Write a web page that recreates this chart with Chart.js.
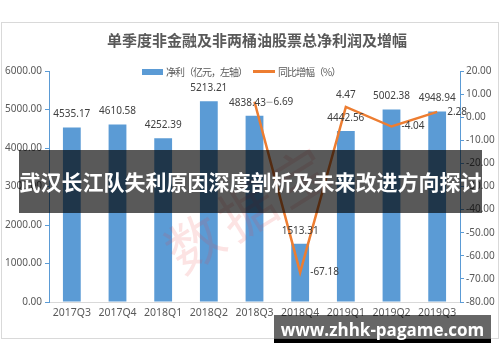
<!DOCTYPE html>
<html lang="zh">
<head>
  <meta charset="UTF-8" />
  <title>单季度非金融及非两桶油股票总净利润及增幅</title>
  <script src="https://cdn.jsdelivr.net/npm/chart.js"></script>
  <style>
    body { margin: 0; background: #fff; }
    #wrap { position: relative; width: 500px; height: 362px; overflow: hidden; font-family: "Noto Sans CJK SC", "Noto Sans", sans-serif; }
    #frame { position: absolute; left: 1px; top: 22px; width: 496px; height: 315px; border: 1px solid #d9d9d9; }
    #chart { position: absolute; left: 0; top: 0; }
    #title { position: absolute; left: 0; width: 514px; top: 29px; text-align: center; font-size: 15px; font-weight: bold; color: #595959; }
    #legend { position: absolute; top: 64px; left: 142px; font-size: 10px; letter-spacing: -1px; color: #595959; display: flex; align-items: center; white-space: nowrap; }
    #legend .box { display: inline-block; width: 21px; height: 6px; background: #5b9bd5; margin-right: 3px; }
    #legend .ln { display: inline-block; width: 22px; height: 2.5px; background: #ed7d31; margin: 0 3px 0 6px; }
    #stamp { position: absolute; left: 155px; top: 165px; font-size: 56px; color: rgba(235, 70, 70, 0.15); transform: rotate(-32deg); white-space: nowrap; letter-spacing: 6px; }
    #banner { position: absolute; left: 19px; top: 150px; width: 463px; height: 63px; background: rgba(0, 0, 0, 0.65); color: #fff; font-size: 21px; font-weight: bold; line-height: 63px; text-align: center; white-space: nowrap; }
    #site { position: absolute; left: 274px; top: 315px; width: 217px; height: 28px; background: linear-gradient(to bottom, rgba(0,0,0,0.6) 0, rgba(0,0,0,0.6) 24px, #000 24px); color: #fff; font-family: "Open Sans", sans-serif; font-size: 17px; font-weight: bold; line-height: 29px; text-align: center; white-space: nowrap; }
  </style>
</head>
<body>
<div id="wrap">
  <div id="frame"></div>
  <canvas id="chart" width="500" height="362"></canvas>
  <div id="title">单季度非金融及非两桶油股票总净利润及增幅</div>
  <div id="legend"><span class="box"></span>净利（亿元，左轴）<span class="ln"></span>同比增幅（%）</div>
  <div id="stamp">数据宝</div>
  <div id="banner">武汉长江队失利原因深度剖析及未来改进方向探讨</div>
  <div id="site">www.zhhk-pagame.com</div>
</div>
<script>
const quarters = ["2017Q3", "2017Q4", "2018Q1", "2018Q2", "2018Q3", "2018Q4", "2019Q1", "2019Q2", "2019Q3"];
const netProfit = [4535.17, 4610.58, 4252.39, 5213.21, 4838.43, 1513.31, 4442.56, 5002.38, 4948.94];
const growth = [null, null, null, null, 6.69, -67.18, 4.47, -4.04, 2.28];
const leftTicks = [0, 1000, 2000, 3000, 4000, 5000, 6000];
const rightTicks = [-80, -70, -60, -50, -40, -30, -20, -10, 0, 10, 20];

const axisBlue = "#5b9bd5";
const textGray = "#595959";
const numFont = { family: "Noto Sans", size: 10 };

// value labels for bars (above) and line (right / above)
const valueLabels = {
  id: "valueLabels",
  afterDatasetsDraw(chart) {
    const c = chart.ctx;
    c.save();
    c.font = "10px 'Noto Sans'";
    c.fillStyle = "#404040";
    c.textBaseline = "middle";
    chart.getDatasetMeta(0).data.forEach((bar, i) => {
      c.textAlign = "center";
      const dx = i === 4 ? -7 : 0;
      c.fillText(netProfit[i].toFixed(2), bar.x + dx, bar.y - 13);
    });
    chart.getDatasetMeta(1).data.forEach((pt, i) => {
      if (growth[i] === null) return;
      const txt = growth[i].toFixed(2);
      if (i === 6) {
        c.textAlign = "center";
        c.fillText(txt, pt.x, pt.y - 12);
      } else if (i === 4) {
        // moved label with a small leader line
        c.strokeStyle = "#a6a6a6";
        c.lineWidth = 1;
        c.beginPath();
        c.moveTo(pt.x + 12, pt.y + 0.5);
        c.lineTo(pt.x + 18, pt.y + 0.5);
        c.stroke();
        c.textAlign = "left";
        c.fillText(txt, pt.x + 19, pt.y);
      } else {
        c.textAlign = "left";
        c.fillText(txt, pt.x + 10, pt.y);
      }
    });
    c.restore();
  }
};

new Chart(document.getElementById("chart"), {
  data: {
    labels: quarters,
    datasets: [
      {
        type: "bar",
        label: "净利（亿元，左轴）",
        data: netProfit,
        backgroundColor: axisBlue,
        barPercentage: 0.39,
        categoryPercentage: 1,
        yAxisID: "y",
        order: 2
      },
      {
        type: "line",
        label: "同比增幅（%）",
        data: growth,
        borderColor: "#ed7d31",
        borderWidth: 2.5,
        pointRadius: 0,
        tension: 0,
        spanGaps: false,
        yAxisID: "y1",
        order: 1
      }
    ]
  },
  options: {
    responsive: false,
    animation: false,
    layout: { padding: { top: 71, left: 0, right: 0, bottom: 0 } },
    plugins: { legend: { display: false }, tooltip: { enabled: false } },
    scales: {
      x: {
        grid: { display: false },
        border: { color: "#d9d9d9" },
        ticks: { color: textGray, font: { family: "Noto Sans", size: 10.5 }, padding: -3, maxRotation: 0 },
        afterFit(s) { s.height = 60; }
      },
      y: {
        position: "left",
        min: 0,
        max: 6000,
        afterBuildTicks(s) { s.ticks = leftTicks.map(v => ({ value: v })); },
        ticks: { color: textGray, font: numFont, padding: 3, callback: v => v.toFixed(2) },
        grid: { drawOnChartArea: false, drawTicks: true, tickLength: 4, color: axisBlue },
        border: { color: axisBlue },
        afterFit(s) { s.width = 49; }
      },
      y1: {
        position: "right",
        min: -80,
        max: 20,
        afterBuildTicks(s) { s.ticks = rightTicks.map(v => ({ value: v })); },
        ticks: { color: textGray, font: numFont, padding: 2, callback: v => v.toFixed(2) },
        grid: { drawOnChartArea: false, drawTicks: true, tickLength: 4, color: axisBlue },
        border: { color: axisBlue },
        afterFit(s) { s.width = 40; }
      }
    }
  },
  plugins: [valueLabels]
});
</script>
</body>
</html>
